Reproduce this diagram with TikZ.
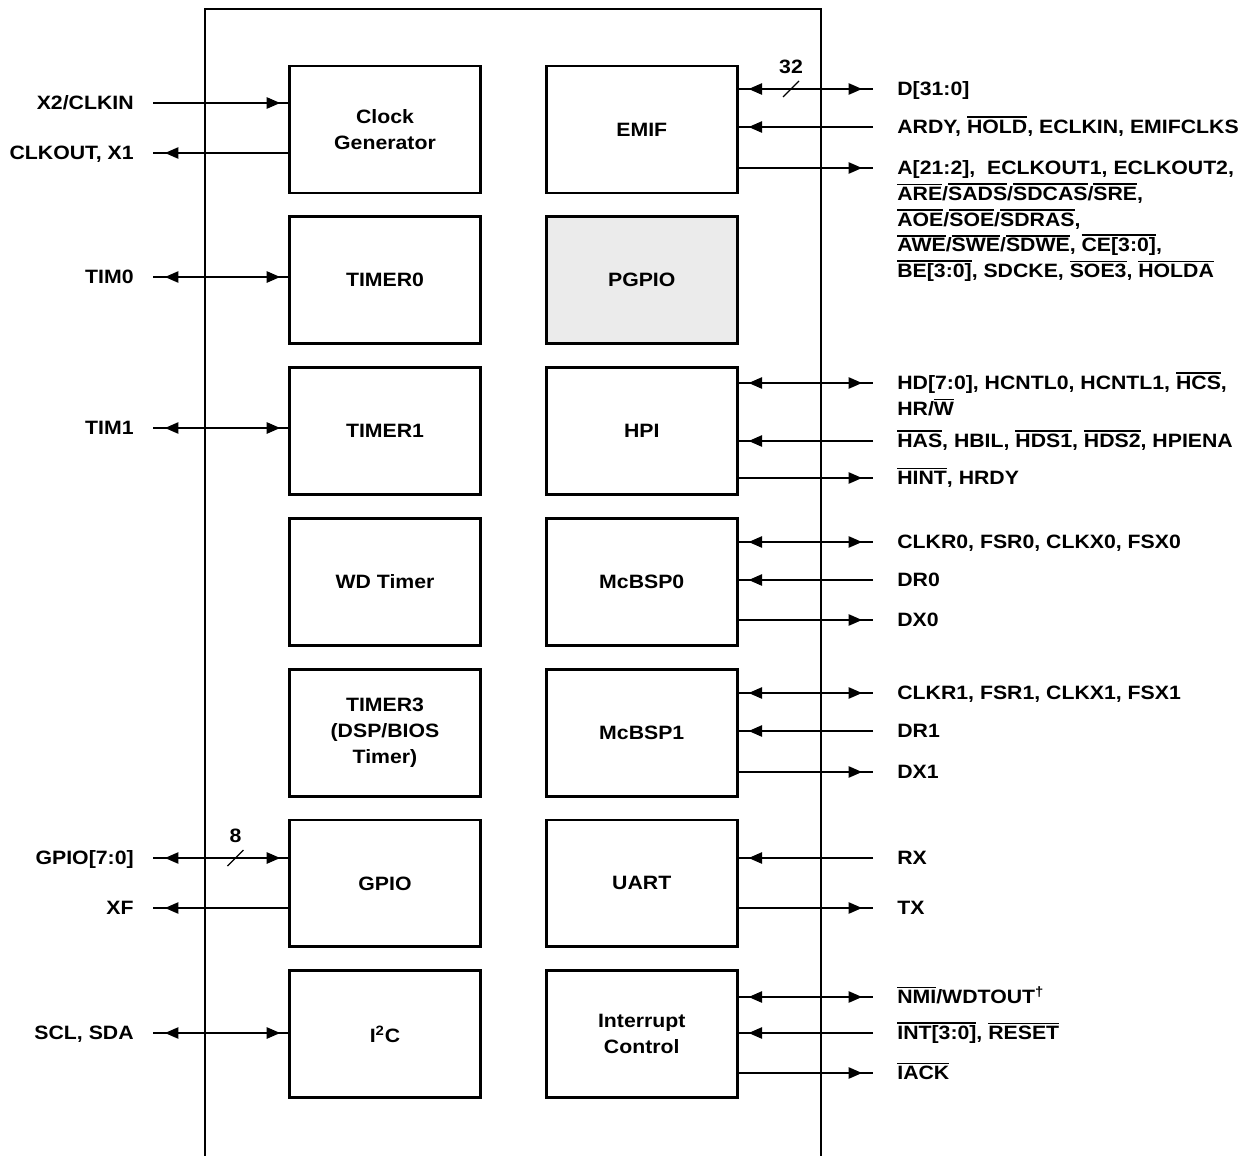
\documentclass[tikz,border=0pt]{standalone}
\usepackage{fontspec}
\setmainfont{Liberation Sans}[FakeStretch=1.1]
\usetikzlibrary{arrows.meta,positioning,calc,decorations.markings}
\newcommand{\ovl}[1]{\setbox0=\hbox{#1}\rlap{\rule[\dimexpr\ht0+1.1pt\relax]{\wd0}{0.9pt}}\box0}
\newcommand{\pinlines}[1]{\begin{tabular}[t]{@{}l@{}}#1\end{tabular}}

\begin{document}
\begin{tikzpicture}[
  x=0.02cm, y=0.02cm,
  font=\fontsize{11}{14.7}\selectfont\bfseries,
  blk/.style={draw, line width=1.6pt, minimum width=3.82cm, minimum height=2.54cm,
              align=center, inner sep=2pt},
  chip/.style={line width=1.6pt},
  sig/.style={line width=0.7pt},
  lbl/.style={inner sep=0pt, align=left},
  fwd/.style={postaction={decorate,decoration={markings,
              mark=at position -#1 with {\arrow{>}}}}},
  bwd/.style={postaction={decorate,decoration={markings,
              mark=at position #1 with {\arrowreversed{>}}}}},
  >={Triangle[length=0.27cm,width=0.23cm]},
  node distance=0.42cm and 1.26cm,
]
\useasboundingbox (0,0) rectangle (1248,-1156);
\draw[chip] (205,-1170) |- (821,-9) -- (821,-1170);

% blocks
\node[blk] (clk) at (385,-129.5) {Clock\\Generator};
\node[blk, right=of clk] (emif) {EMIF};
\node[blk, below=of clk] (tmr0) {TIMER0};
\node[blk, below=of emif, fill=black!8] (pgpio) {PGPIO};
\node[blk, below=of tmr0] (tmr1) {TIMER1};
\node[blk, below=of pgpio] (hpi) {HPI};
\node[blk, below=of tmr1] (wdt) {WD Timer};
\node[blk, below=of hpi] (mcb0) {McBSP0};
\node[blk, below=of wdt] (tmr3) {TIMER3\\(DSP/BIOS\\Timer)};
\node[blk, below=of mcb0] (mcb1) {McBSP1};
\node[blk, below=of tmr3] (gpio) {GPIO};
\node[blk, below=of mcb1] (uart) {UART};
\node[blk, below=of gpio] (iic) {I\textsuperscript{2}C};
\node[blk, below=of uart] (intc) {Interrupt\\Control};

% left side pins
\coordinate (x2) at (153,-103);
\coordinate (clkout) at (153,-153);
\coordinate (tim0) at (153,-277);
\coordinate (tim1) at (153,-428);
\coordinate (gp) at (153,-858);
\coordinate (xf) at (153,-908);
\coordinate (scl) at (153,-1033);

\draw[sig, fwd=0.16cm] (x2) -- (x2 -| clk.west);
\draw[sig, fwd=0.24cm] (clkout -| clk.west) -- (clkout);
\draw[sig, fwd=0.16cm, bwd=0.24cm] (tim0) -- (tim0 -| tmr0.west);
\draw[sig, fwd=0.16cm, bwd=0.24cm] (tim1) -- (tim1 -| tmr1.west);
\draw[sig, fwd=0.16cm, bwd=0.24cm] (gp) -- coordinate[pos=0.61] (gpbus) (gp -| gpio.west);
\draw[sig, fwd=0.24cm] (xf -| gpio.west) -- (xf);
\draw[sig, fwd=0.16cm, bwd=0.24cm] (scl) -- (scl -| iic.west);

\draw[sig] ($(gpbus)+(-8,-8)$) -- ($(gpbus)+(8,8)$);
\node[lbl, above=0.3cm of gpbus] (gpw) {8};

\node[lbl, anchor=base east] (x2l) at ($(x2)+(-19,-6.5)$) {X2/CLKIN};
\node[lbl, anchor=base east] (clkoutl) at ($(clkout)+(-19,-6.5)$) {CLKOUT, X1};
\node[lbl, anchor=base east] (tim0l) at ($(tim0)+(-19,-6.5)$) {TIM0};
\node[lbl, anchor=base east] (tim1l) at ($(tim1)+(-19,-6.5)$) {TIM1};
\node[lbl, anchor=base east] (gpl) at ($(gp)+(-19,-6.5)$) {GPIO[7:0]};
\node[lbl, anchor=base east] (xfl) at ($(xf)+(-19,-6.5)$) {XF};
\node[lbl, anchor=base east] (scll) at ($(scl)+(-19,-6.5)$) {SCL, SDA};

% right side pins
\coordinate (d) at (873,-89);
\coordinate (ardy) at (873,-127);
\coordinate (addr) at (873,-168);
\coordinate (hd) at (873,-383);
\coordinate (has) at (873,-441);
\coordinate (hint) at (873,-478);
\coordinate (clkr0) at (873,-542);
\coordinate (dr0) at (873,-580);
\coordinate (dx0) at (873,-620);
\coordinate (clkr1) at (873,-693);
\coordinate (dr1) at (873,-731);
\coordinate (dx1) at (873,-772);
\coordinate (rx) at (873,-858);
\coordinate (tx) at (873,-908);
\coordinate (nmi) at (873,-997);
\coordinate (int) at (873,-1033);
\coordinate (iack) at (873,-1073);

\draw[sig, fwd=0.22cm, bwd=0.2cm] (d -| emif.east) -- coordinate[pos=0.39] (dbus) (d);
\draw[sig, fwd=0.2cm] (ardy) -- (ardy -| emif.east);
\draw[sig, fwd=0.22cm] (addr -| emif.east) -- (addr);
\draw[sig, fwd=0.22cm, bwd=0.2cm] (hd -| hpi.east) -- (hd);
\draw[sig, fwd=0.2cm] (has) -- (has -| hpi.east);
\draw[sig, fwd=0.22cm] (hint -| hpi.east) -- (hint);
\draw[sig, fwd=0.22cm, bwd=0.2cm] (clkr0 -| mcb0.east) -- (clkr0);
\draw[sig, fwd=0.2cm] (dr0) -- (dr0 -| mcb0.east);
\draw[sig, fwd=0.22cm] (dx0 -| mcb0.east) -- (dx0);
\draw[sig, fwd=0.22cm, bwd=0.2cm] (clkr1 -| mcb1.east) -- (clkr1);
\draw[sig, fwd=0.2cm] (dr1) -- (dr1 -| mcb1.east);
\draw[sig, fwd=0.22cm] (dx1 -| mcb1.east) -- (dx1);
\draw[sig, fwd=0.2cm] (rx) -- (rx -| uart.east);
\draw[sig, fwd=0.22cm] (tx -| uart.east) -- (tx);
\draw[sig, fwd=0.22cm, bwd=0.2cm] (nmi -| intc.east) -- (nmi);
\draw[sig, fwd=0.2cm] (int) -- (int -| intc.east);
\draw[sig, fwd=0.22cm] (iack -| intc.east) -- (iack);

\draw[sig] ($(dbus)+(-8,-8)$) -- ($(dbus)+(8,8)$);
\node[lbl, above=0.3cm of dbus] (dw) {32};

\node[lbl, anchor=base west] (dl) at ($(d)+(24,-6.5)$) {D[31:0]};
\node[lbl, anchor=base west] (ardyl) at ($(ardy)+(24,-6.5)$)
     {ARDY, \ovl{HOLD}, ECLKIN, EMIFCLKS};
\node[lbl, anchor=base west] (addrl) at ($(addr)+(24,-6.5)$)
     {\pinlines{A[21:2], \ ECLKOUT1, ECLKOUT2,\\
      \ovl{ARE}/\ovl{SADS}/\ovl{SDCAS}/\ovl{SRE},\\
      \ovl{AOE}/\ovl{SOE}/\ovl{SDRAS},\\
      \ovl{AWE}/\ovl{SWE}/\ovl{SDWE}, \ovl{CE[3:0]},\\
      \ovl{BE[3:0]}, SDCKE, \ovl{SOE3}, \ovl{HOLDA}}};
\node[lbl, anchor=base west] (hdl) at ($(hd)+(24,-6.5)$)
     {\pinlines{HD[7:0], HCNTL0, HCNTL1, \ovl{HCS},\\ HR/\ovl{W}}};
\node[lbl, anchor=base west] (hasl) at ($(has)+(24,-6.5)$)
     {\ovl{HAS}, HBIL, \ovl{HDS1}, \ovl{HDS2}, HPIENA};
\node[lbl, anchor=base west] (hintl) at ($(hint)+(24,-6.5)$) {\ovl{HINT}, HRDY};
\node[lbl, anchor=base west] (clkr0l) at ($(clkr0)+(24,-6.5)$) {CLKR0, FSR0, CLKX0, FSX0};
\node[lbl, anchor=base west] (dr0l) at ($(dr0)+(24,-6.5)$) {DR0};
\node[lbl, anchor=base west] (dx0l) at ($(dx0)+(24,-6.5)$) {DX0};
\node[lbl, anchor=base west] (clkr1l) at ($(clkr1)+(24,-6.5)$) {CLKR1, FSR1, CLKX1, FSX1};
\node[lbl, anchor=base west] (dr1l) at ($(dr1)+(24,-6.5)$) {DR1};
\node[lbl, anchor=base west] (dx1l) at ($(dx1)+(24,-6.5)$) {DX1};
\node[lbl, anchor=base west] (rxl) at ($(rx)+(24,-6.5)$) {RX};
\node[lbl, anchor=base west] (txl) at ($(tx)+(24,-6.5)$) {TX};
\node[lbl, anchor=base west] (nmil) at ($(nmi)+(24,-6.5)$) {\ovl{NMI}/WDTOUT\textsuperscript{†}};
\node[lbl, anchor=base west] (intl) at ($(int)+(24,-6.5)$) {\ovl{INT[3:0]}, \ovl{RESET}};
\node[lbl, anchor=base west] (iackl) at ($(iack)+(24,-6.5)$) {\ovl{IACK}};
\end{tikzpicture}
\end{document}
